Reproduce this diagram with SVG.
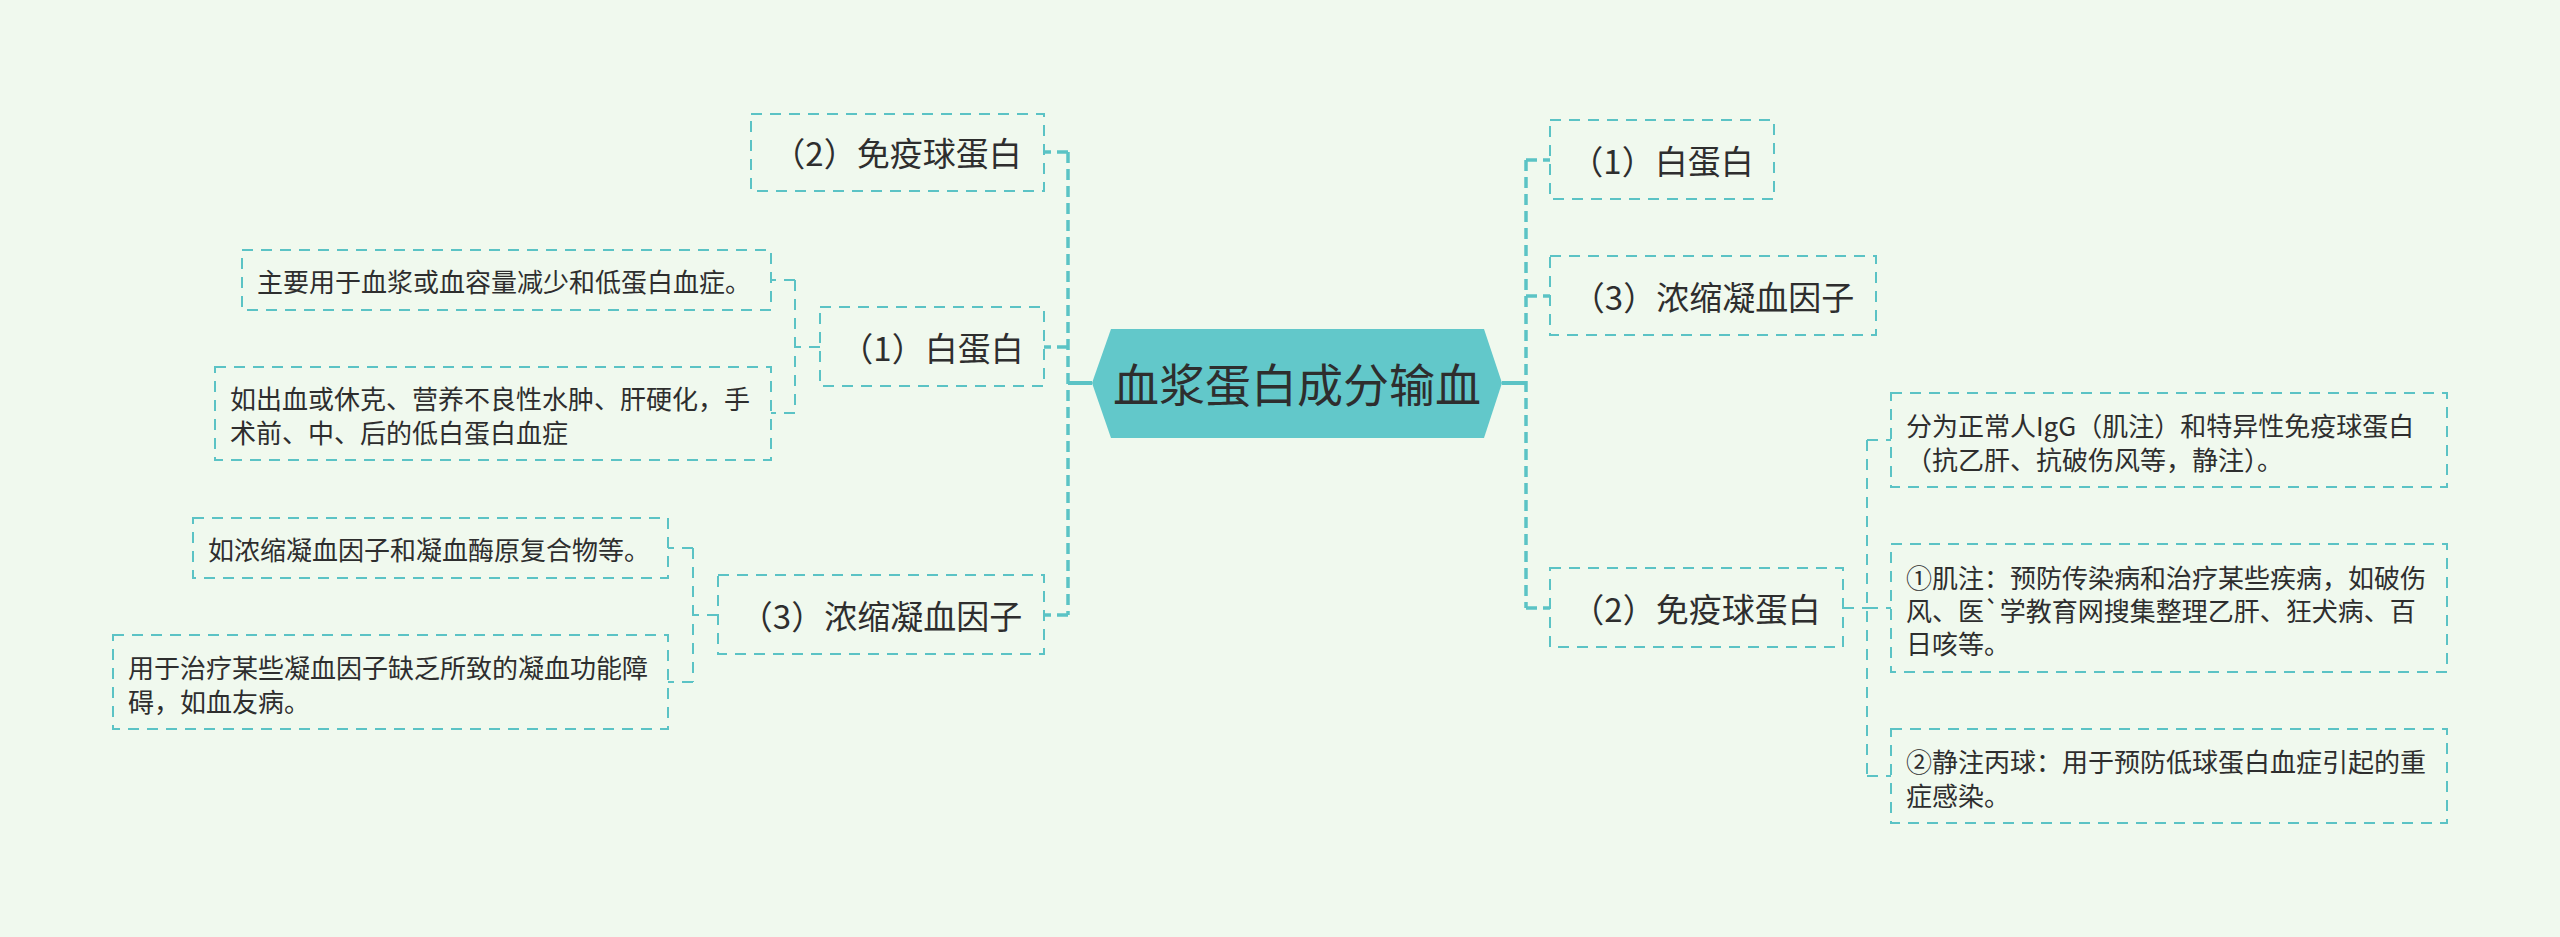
<svg xmlns="http://www.w3.org/2000/svg" width="2560" height="937" viewBox="0 0 2560 937">
<style>
text{font-family:"Noto Sans CJK SC","Liberation Sans",sans-serif;fill:#2e2e2e;dominant-baseline:central}
.box{fill:none;stroke:#5bc3c5;stroke-width:2;stroke-dasharray:11 8}
.mid{font-size:33px;text-anchor:middle}
.leaf{font-size:26px}
.c1{fill:none;stroke:#5bc3c5;stroke-width:3.5;stroke-dasharray:11 6}
.c2{fill:none;stroke:#5bc3c5;stroke-width:2;stroke-dasharray:11 8}
.solid{fill:none;stroke:#5bc3c5;stroke-width:4}
</style>
<rect x="0" y="0" width="2560" height="937" fill="#f0f9ee"/>
<g id="connectors">
<path class="solid" d="M1092 383H1068"/>
<path class="c1" d="M1068 152V615"/>
<path class="c1" d="M1068 152H1044M1068 347H1044M1068 615H1044"/>
<path class="solid" d="M1502 383H1526"/>
<path class="c1" d="M1526 160V608"/>
<path class="c1" d="M1526 160H1550M1526 296H1550M1526 608H1550"/>
<path class="c2" d="M820 347H795M795 280V413M795 280H771M795 413H771"/>
<path class="c2" d="M718 615H693M693 548V682M693 548H668M693 682H668"/>
<path class="c2" d="M1843 608H1867M1867 440V776M1867 440H1891M1867 608H1891M1867 776H1891"/>
</g>
<g id="root">
<polygon points="1092,383 1111,329 1484,329 1502,383 1484,438 1111,438" fill="#62c8ca"/>
<text x="1297" y="382" font-size="46" text-anchor="middle">血浆蛋白成分输血</text>
</g>
<g id="l2">
<rect class="box" x="751" y="114" width="293" height="77"/>
<text class="mid" x="897" y="152">（2）免疫球蛋白</text>
</g>
<g id="l1">
<rect class="box" x="820" y="307" width="224" height="79"/>
<text class="mid" x="932" y="347">（1）白蛋白</text>
</g>
<g id="l1a">
<rect class="box" x="242" y="250" width="529" height="60"/>
<text class="leaf" x="257" y="280">主要用于血浆或血容量减少和低蛋白血症。</text>
</g>
<g id="l1b">
<rect class="box" x="215" y="367" width="556" height="93"/>
<text class="leaf" x="230" y="397">如出血或休克、营养不良性水肿、肝硬化，手</text>
<text class="leaf" x="230" y="431">术前、中、后的低白蛋白血症</text>
</g>
<g id="l3">
<rect class="box" x="718" y="575" width="326" height="79"/>
<text class="mid" x="881" y="615">（3）浓缩凝血因子</text>
</g>
<g id="l3a">
<rect class="box" x="193" y="518" width="475" height="60"/>
<text class="leaf" x="208" y="548">如浓缩凝血因子和凝血酶原复合物等。</text>
</g>
<g id="l3b">
<rect class="box" x="113" y="635" width="555" height="94"/>
<text class="leaf" x="128" y="666">用于治疗某些凝血因子缺乏所致的凝血功能障</text>
<text class="leaf" x="128" y="700">碍，如血友病。</text>
</g>
<g id="r1">
<rect class="box" x="1550" y="120" width="224" height="79"/>
<text class="mid" x="1662" y="160">（1）白蛋白</text>
</g>
<g id="r3">
<rect class="box" x="1550" y="256" width="326" height="79"/>
<text class="mid" x="1713" y="296">（3）浓缩凝血因子</text>
</g>
<g id="r2">
<rect class="box" x="1550" y="568" width="293" height="79"/>
<text class="mid" x="1696" y="608">（2）免疫球蛋白</text>
</g>
<g id="r2a">
<rect class="box" x="1891" y="393" width="556" height="94"/>
<text class="leaf" x="1906" y="424">分为正常人IgG（肌注）和特异性免疫球蛋白</text>
<text class="leaf" x="1906" y="458">（抗乙肝、抗破伤风等，静注）。</text>
</g>
<g id="r2b">
<rect class="box" x="1891" y="544" width="556" height="128"/>
<text class="leaf" x="1906" y="576">①肌注：预防传染病和治疗某些疾病，如破伤</text>
<text class="leaf" x="1906" y="609">风、医`学教育网搜集整理乙肝、狂犬病、百</text>
<text class="leaf" x="1906" y="642">日咳等。</text>
</g>
<g id="r2c">
<rect class="box" x="1891" y="729" width="556" height="94"/>
<text class="leaf" x="1906" y="760">②静注丙球：用于预防低球蛋白血症引起的重</text>
<text class="leaf" x="1906" y="794">症感染。</text>
</g>
</svg>
